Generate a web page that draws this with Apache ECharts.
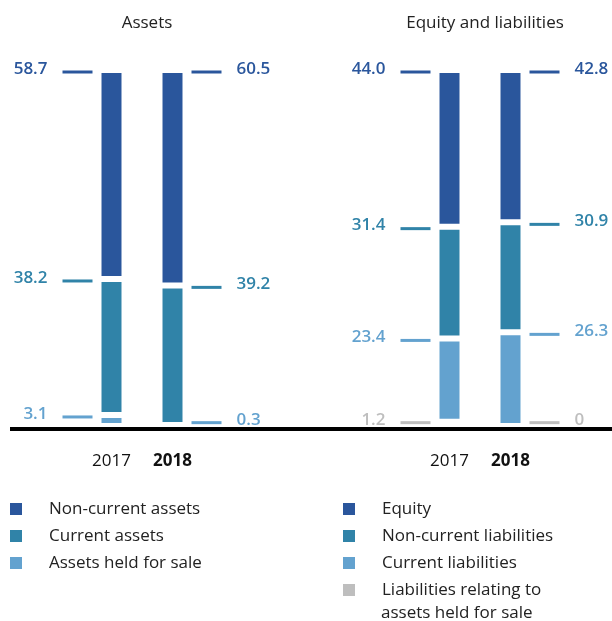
<!DOCTYPE html>
<html>
<head>
<meta charset="utf-8">
<script src="https://cdn.jsdelivr.net/npm/echarts@6/dist/echarts.min.js"></script>
<style>
  html, body { margin: 0; padding: 0; background: #fff; }
  #chart { width: 612px; height: 621px; }
</style>
</head>
<body>
<div id="chart"></div>
<script>
// categories
var years = ["2017", "2018"];

// assets (percent of total)
var nonCurrentAssets = [58.7, 60.5];
var currentAssets = [38.2, 39.2];
var assetsHeldForSale = [3.1, 0.3];

// equity and liabilities (percent of total)
var equity = [44.0, 42.8];
var nonCurrentLiabilities = [31.4, 30.9];
var currentLiabilities = [23.4, 26.3];
var liabilitiesHeldForSale = [1.2, 0];

var DARK = "#2a569c", TEAL = "#3083a8", LIGHT = "#63a2cf", GREY = "#bebebe";
var FONT = "Open Sans";
var LIAB_SALE = "Liabilities relating to assets held for sale";

// stack from bottom to top
var assetStack = [
  { name: "Assets held for sale", data: assetsHeldForSale, color: LIGHT },
  { name: "Current assets", data: currentAssets, color: TEAL },
  { name: "Non-current assets", data: nonCurrentAssets, color: DARK }
];
var liabStack = [
  { name: LIAB_SALE, data: liabilitiesHeldForSale, color: GREY },
  { name: "Current liabilities", data: currentLiabilities, color: LIGHT },
  { name: "Non-current liabilities", data: nonCurrentLiabilities, color: TEAL },
  { name: "Equity", data: equity, color: DARK }
];

var series = [];

function addStack(stack, idx) {
  var cum = [0, 0];
  stack.forEach(function (s) {
    series.push({
      name: s.name,
      type: "bar",
      stack: "s" + idx,
      xAxisIndex: idx,
      yAxisIndex: idx,
      barWidth: 26,
      data: s.data,
      itemStyle: { color: s.color, borderColor: "#fff", borderWidth: 3 },
      emphasis: { disabled: true }
    });
    // tick mark + value label at the top of each segment
    var pts = s.data.map(function (v, i) {
      cum[i] += v;
      var left = i === 0;
      return {
        value: [i, Math.max(cum[i], 1.5)],
        symbolOffset: [left ? -34 : 34, 2],
        label: {
          position: left ? "left" : "right",
          formatter: s.data[i] === 0 ? "0" : s.data[i].toFixed(1)
        }
      };
    });
    series.push({
      name: s.name + " label",
      type: "scatter",
      xAxisIndex: idx,
      yAxisIndex: idx,
      symbol: "rect",
      symbolSize: [30, 3],
      itemStyle: { color: s.color, opacity: 1 },
      label: {
        show: true,
        distance: 15,
        offset: [0, -3],
        color: s.color,
        fontFamily: FONT,
        fontSize: 17,
        fontWeight: 600
      },
      emphasis: { disabled: true },
      silent: true,
      z: 3,
      data: pts
    });
  });
}
addStack(assetStack, 0);
addStack(liabStack, 1);

function xAxis(idx) {
  return {
    type: "category",
    gridIndex: idx,
    data: years,
    axisLine: { show: false },
    axisTick: { show: false },
    axisLabel: {
      interval: 0,
      hideOverlap: false,
      margin: 27,
      fontFamily: FONT,
      fontSize: 17,
      color: "#111",
      formatter: function (v) { return v === "2018" ? "{b|" + v + "}" : "{n|" + v + "}"; },
      rich: {
        n: { fontFamily: FONT, fontSize: 17, color: "#111" },
        b: { fontWeight: "bold", fontFamily: FONT, fontSize: 17, color: "#111" }
      }
    }
  };
}
function yAxis(idx) {
  return { type: "value", gridIndex: idx, min: 0, max: 100, show: false };
}

var legendText = { fontFamily: FONT, fontSize: 17, lineHeight: 20, color: "#222", padding: [0, 0, 0, 22] };

var chart = echarts.init(document.getElementById("chart"));
chart.setOption({
  animation: false,
  title: [
    { text: "Assets", left: 142, top: 10, textAlign: "center",
      textStyle: { fontFamily: FONT, fontSize: 17, fontWeight: "normal", color: "#222" } },
    { text: "Equity and liabilities", left: 480, top: 10, textAlign: "center",
      textStyle: { fontFamily: FONT, fontSize: 17, fontWeight: "normal", color: "#222" } },
    // second line of the last legend entry
    { text: "assets held for sale", left: 381, top: 605, padding: 0,
      textStyle: { fontFamily: FONT, fontSize: 17, fontWeight: "normal", color: "#222" } }
  ],
  grid: [
    { left: 81, width: 122, top: 70, height: 356 },
    { left: 419, width: 122, top: 70, height: 356 }
  ],
  xAxis: [xAxis(0), xAxis(1)],
  yAxis: [yAxis(0), yAxis(1)],
  legend: [
    {
      orient: "vertical", left: 10, top: 499, height: 200, padding: 0,
      itemWidth: 12, itemHeight: 12, itemGap: 7,
      icon: "rect", selectedMode: false, textStyle: legendText,
      itemStyle: { borderWidth: 0 },
      data: ["Non-current assets", "Current assets", "Assets held for sale"]
    },
    {
      orient: "vertical", left: 343, top: 499, height: 200, padding: 0,
      itemWidth: 12, itemHeight: 12, itemGap: 7,
      icon: "rect", selectedMode: false, textStyle: legendText,
      itemStyle: { borderWidth: 0 },
      formatter: function (n) {
        return n === LIAB_SALE ? "Liabilities relating to" : n;
      },
      data: ["Equity", "Non-current liabilities", "Current liabilities", LIAB_SALE]
    }
  ],
  graphic: [
    { type: "line", z: 100, shape: { x1: 10, y1: 429, x2: 612, y2: 429 },
      style: { stroke: "#000", lineWidth: 4 } }
  ],
  series: series
});
</script>
</body>
</html>
